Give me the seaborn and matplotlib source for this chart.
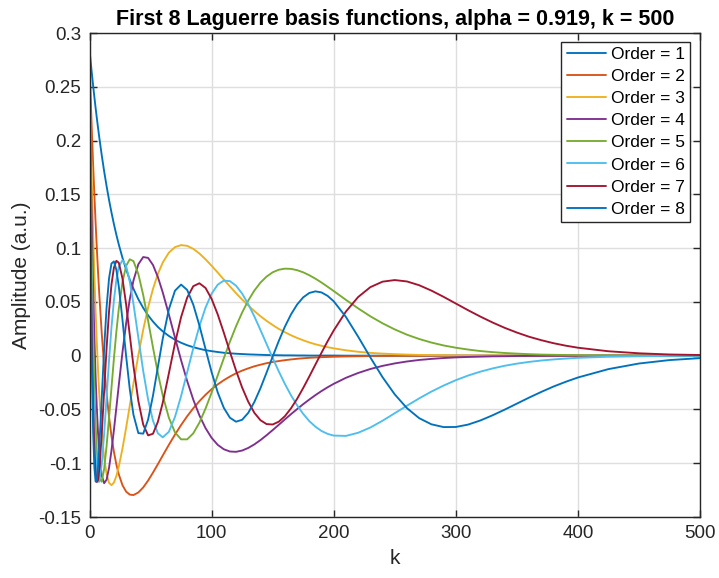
import numpy as np
import pandas as pd
import matplotlib
matplotlib.use("Agg")
import matplotlib.pyplot as plt
import seaborn as sns

# sample index k
k = [0, 1, 2, 3, 4, 5, 6, 7, 8, 10, 12, 14, 16, 18, 20, 22, 24, 27, 30, 33, 36,
     40, 44, 48, 52, 56, 60, 65, 70, 75, 80, 85, 90, 95,
     100, 105, 110, 115, 120, 125, 130, 135, 140, 145, 150, 155, 160, 165, 170,
     175, 180, 185, 190, 195, 200,
     210, 220, 230, 240, 250, 260, 270, 280, 290, 300, 310, 320, 330, 340, 350,
     360, 370, 380, 390, 400, 425, 450, 475, 500]

order1 = [0.2846, 0.2728, 0.2616, 0.2507, 0.2404, 0.2304, 0.2209, 0.2118, 0.2030,
          0.1866, 0.1714, 0.1576, 0.1448, 0.1331, 0.1223, 0.1124, 0.1033, 0.0910,
          0.0802, 0.0706, 0.0622, 0.0525, 0.0444, 0.0375, 0.0317, 0.0267, 0.0226,
          0.0183, 0.0148, 0.0120, 0.0097, 0.0079, 0.0064, 0.0051,
          0.0042, 0.0034, 0.0027, 0.0022, 0.0018, 0.0015, 0.0012, 0.0010, 0.0008,
          0.0006, 0.0005, 0.0004, 0.0003, 0.0003, 0.0002, 0.0002, 0.0001, 0.0001,
          0.0001, 0.0001, 0.0001,
          0.0, 0.0, 0.0, 0.0, 0.0, 0.0, 0.0, 0.0, 0.0, 0.0, 0.0, 0.0, 0.0, 0.0,
          0.0, 0.0, 0.0, 0.0, 0.0, 0.0, 0.0, 0.0, 0.0, 0.0]
order2 = [0.2728, 0.2385, 0.2065, 0.1768, 0.1492, 0.1235, 0.0998, 0.0778, 0.0574,
          0.0212, -0.0095, -0.0353, -0.0569, -0.0748, -0.0894, -0.1012, -0.1104,
          -0.1204, -0.1264, -0.1292, -0.1296, -0.1272, -0.1225, -0.1161, -0.1087,
          -0.1009, -0.0928, -0.0829, -0.0734, -0.0645, -0.0563, -0.0489, -0.0423,
          -0.0364,
          -0.0312, -0.0267, -0.0228, -0.0194, -0.0164, -0.0139, -0.0118, -0.0099,
          -0.0084, -0.0070, -0.0059, -0.0050, -0.0042, -0.0035, -0.0029, -0.0024,
          -0.0020, -0.0017, -0.0014, -0.0012, -0.0010,
          -0.0007, -0.0005, -0.0003, -0.0002, -0.0001, -0.0001, -0.0001,
          0.0, 0.0, 0.0, 0.0, 0.0, 0.0, 0.0, 0.0, 0.0, 0.0, 0.0, 0.0, 0.0, 0.0,
          0.0, 0.0, 0.0]
order3 = [0.2616, 0.2065, 0.1575, 0.1139, 0.0754, 0.0416, 0.0120, -0.0138, -0.0360,
          -0.0708, -0.0950, -0.1102, -0.1182, -0.1204, -0.1180, -0.1119, -0.1031,
          -0.0864, -0.0670, -0.0464, -0.0258, 0.0004, 0.0242, 0.0448, 0.0621,
          0.0760, 0.0866, 0.0958, 0.1009, 0.1028, 0.1021, 0.0993, 0.0950, 0.0896,
          0.0836, 0.0773, 0.0708, 0.0644, 0.0581, 0.0522, 0.0467, 0.0415, 0.0367,
          0.0324, 0.0285, 0.0249, 0.0218, 0.0190, 0.0165, 0.0143, 0.0123, 0.0106,
          0.0092, 0.0079, 0.0068,
          0.0050, 0.0036, 0.0026, 0.0019, 0.0014, 0.0010, 0.0007, 0.0005, 0.0004,
          0.0002, 0.0002, 0.0001, 0.0001, 0.0001,
          0.0, 0.0, 0.0, 0.0, 0.0, 0.0, 0.0, 0.0, 0.0, 0.0]
order4 = [0.2507, 0.1768, 0.1139, 0.0610, 0.0168, -0.0195, -0.0488, -0.0719,
          -0.0896, -0.1114, -0.1186, -0.1153, -0.1043, -0.0882, -0.0691, -0.0483,
          -0.0273, 0.0031, 0.0301, 0.0525, 0.0699, 0.0850, 0.0917, 0.0909, 0.0843,
          0.0731, 0.0588, 0.0383, 0.0169, -0.0042, -0.0236, -0.0409, -0.0555,
          -0.0673,
          -0.0764, -0.0829, -0.0870, -0.0891, -0.0894, -0.0882, -0.0858, -0.0825,
          -0.0785, -0.0740, -0.0692, -0.0643, -0.0593, -0.0544, -0.0497, -0.0451,
          -0.0408, -0.0367, -0.0329, -0.0294, -0.0262,
          -0.0206, -0.0161, -0.0124, -0.0095, -0.0072, -0.0054, -0.0040, -0.0030,
          -0.0022, -0.0016, -0.0012, -0.0009, -0.0006, -0.0005, -0.0003, -0.0002,
          -0.0002, -0.0001, -0.0001, -0.0001,
          0.0, 0.0, 0.0, 0.0]
order5 = [0.2404, 0.1492, 0.0754, 0.0168, -0.0287, -0.0630, -0.0877, -0.1042,
          -0.1139, -0.1172, -0.1053, -0.0839, -0.0577, -0.0298, -0.0026, 0.0223,
          0.0437, 0.0684, 0.0835, 0.0896, 0.0879, 0.0759, 0.0563, 0.0325, 0.0076,
          -0.0162, -0.0371, -0.0577, -0.0713, -0.0778, -0.0778, -0.0722, -0.0623,
          -0.0493,
          -0.0344, -0.0184, -0.0024, 0.0130, 0.0273, 0.0401, 0.0512, 0.0605,
          0.0679, 0.0735, 0.0775, 0.0799, 0.0809, 0.0807, 0.0795, 0.0775, 0.0748,
          0.0716, 0.0680, 0.0641, 0.0601,
          0.0519, 0.0440, 0.0366, 0.0301, 0.0244, 0.0195, 0.0155, 0.0122, 0.0095,
          0.0074, 0.0057, 0.0043, 0.0033, 0.0025, 0.0019, 0.0014, 0.0010, 0.0008,
          0.0006, 0.0004,
          0.0002, 0.0001, 0.0, 0.0]
order6 = [0.2304, 0.1235, 0.0416, -0.0195, -0.0630, -0.0921, -0.1093, -0.1171,
          -0.1172, -0.1013, -0.0725, -0.0384, -0.0044, 0.0263, 0.0515, 0.0703,
          0.0825, 0.0889, 0.0834, 0.0687, 0.0482, 0.0168, -0.0143, -0.0408,
          -0.0605, -0.0722, -0.0759, -0.0708, -0.0570, -0.0376, -0.0154, 0.0069,
          0.0274, 0.0446,
          0.0576, 0.0660, 0.0698, 0.0693, 0.0651, 0.0577, 0.0479, 0.0365, 0.0239,
          0.0109, -0.0021, -0.0146, -0.0262, -0.0368, -0.0461, -0.0541, -0.0608,
          -0.0660, -0.0700, -0.0727, -0.0743,
          -0.0746, -0.0717, -0.0668, -0.0605, -0.0535, -0.0465, -0.0397, -0.0334,
          -0.0278, -0.0228, -0.0185, -0.0149, -0.0119, -0.0094, -0.0074, -0.0058,
          -0.0045, -0.0035, -0.0027, -0.0020,
          -0.0010, -0.0005, -0.0002, -0.0001]
order7 = [0.2209, 0.0998, 0.0120, -0.0488, -0.0877, -0.1093, -0.1175, -0.1156,
          -0.1061, -0.0732, -0.0326, 0.0073, 0.0410, 0.0662, 0.0818, 0.0882,
          0.0864, 0.0718, 0.0476, 0.0190, -0.0095, -0.0420, -0.0641, -0.0741,
          -0.0726, -0.0615, -0.0437, -0.0165, 0.0114, 0.0358, 0.0540, 0.0646,
          0.0673, 0.0630,
          0.0528, 0.0384, 0.0214, 0.0036, -0.0138, -0.0296, -0.0428, -0.0531,
          -0.0600, -0.0636, -0.0640, -0.0614, -0.0563, -0.0490, -0.0402, -0.0301,
          -0.0194, -0.0083, 0.0027, 0.0134, 0.0234,
          0.0410, 0.0545, 0.0637, 0.0688, 0.0703, 0.0690, 0.0655, 0.0605, 0.0547,
          0.0485, 0.0423, 0.0364, 0.0309, 0.0259, 0.0215, 0.0176, 0.0144, 0.0116,
          0.0093, 0.0074,
          0.0041, 0.0022, 0.0011, 0.0006]
order8 = [0.2118, 0.0778, -0.0138, -0.0719, -0.1042, -0.1171, -0.1156, -0.1040,
          -0.0858, -0.0400, 0.0065, 0.0452, 0.0719, 0.0857, 0.0876, 0.0797,
          0.0644, 0.0334, -0.0005, -0.0313, -0.0549, -0.0720, -0.0725, -0.0594,
          -0.0371, -0.0105, 0.0158, 0.0431, 0.0604, 0.0661, 0.0611, 0.0474,
          0.0281, 0.0063,
          -0.0153, -0.0341, -0.0485, -0.0577, -0.0614, -0.0596, -0.0532, -0.0431,
          -0.0303, -0.0158, -0.0009, 0.0136, 0.0269, 0.0383, 0.0475, 0.0542,
          0.0583, 0.0598, 0.0588, 0.0556, 0.0506,
          0.0360, 0.0177, -0.0016, -0.0200, -0.0360, -0.0488, -0.0581, -0.0638,
          -0.0664, -0.0663, -0.0641, -0.0603, -0.0555, -0.0502, -0.0446, -0.0390,
          -0.0337, -0.0287, -0.0243, -0.0203,
          -0.0125, -0.0073, -0.0041, -0.0023]

series = [order1, order2, order3, order4, order5, order6, order7, order8]
labels = [f"Order = {i}" for i in range(1, 9)]
colors = ["#0072BD", "#D95319", "#EDB120", "#7E2F8E",
          "#77AC30", "#4DBEEE", "#A2142F", "#0072BD"]

yticks = [-0.15, -0.1, -0.05, 0, 0.05, 0.1, 0.15, 0.2, 0.25, 0.3]
ytick_labels = ["-0.15", "-0.1", "-0.05", "0", "0.05", "0.1", "0.15", "0.2", "0.25", "0.3"]
xticks = [0, 100, 200, 300, 400, 500]
xtick_labels = ["0", "100", "200", "300", "400", "500"]

rows = []
for lab, vals in zip(labels, series):
    n = min(len(k), len(vals))
    for kk, v in zip(k[:n], vals[:n]):
        rows.append({"k": kk, "Amplitude": v, "Order": lab})
df = pd.DataFrame(rows)

sns.set_style("ticks")
plt.rcParams["font.family"] = ["Liberation Sans", "DejaVu Sans"]
axcol = "#262626"

fig = plt.figure(figsize=(7.19, 5.78), dpi=100)
ax = fig.add_axes([89.5 / 719, 1 - 517 / 578, 610.5 / 719, 484 / 578])

sns.lineplot(data=df, x="k", y="Amplitude", hue="Order", hue_order=labels,
             palette=dict(zip(labels, colors)), linewidth=1.35, ax=ax,
             sort=False, estimator=None)

ax.set_xlim(0, 500)
ax.set_ylim(-0.15, 0.3)
ax.set_xticks(xticks)
ax.set_xticklabels(xtick_labels)
ax.set_yticks(yticks)
ax.set_yticklabels(ytick_labels)
ax.grid(True, color="#dedede", linewidth=1.0)
ax.set_axisbelow(True)
ax.tick_params(direction="in", length=5, width=1.0, colors=axcol,
               labelsize=13.5, top=True, right=True, pad=6)
for sp in ax.spines.values():
    sp.set_visible(True)
    sp.set_color(axcol)
    sp.set_linewidth(1.0)

ax.set_xlabel("k", fontsize=15, color=axcol, labelpad=5)
ax.set_ylabel("Amplitude (a.u.)", fontsize=15, color=axcol, labelpad=5)
ax.set_title("First 8 Laguerre basis functions, alpha = 0.919, k = 500",
             fontsize=15.5, fontweight="bold", color="black", pad=6)

leg = ax.legend(loc="upper right", bbox_to_anchor=(0.9836, 0.982), fontsize=12.5,
                frameon=True, fancybox=False, framealpha=1.0, edgecolor=axcol,
                handlelength=2.3, handletextpad=0.25, labelspacing=0.4,
                borderpad=0.3, borderaxespad=0.0)
leg.get_frame().set_linewidth(1.0)
for t in leg.get_texts():
    t.set_color("black")

fig.savefig("out.png", dpi=100)
